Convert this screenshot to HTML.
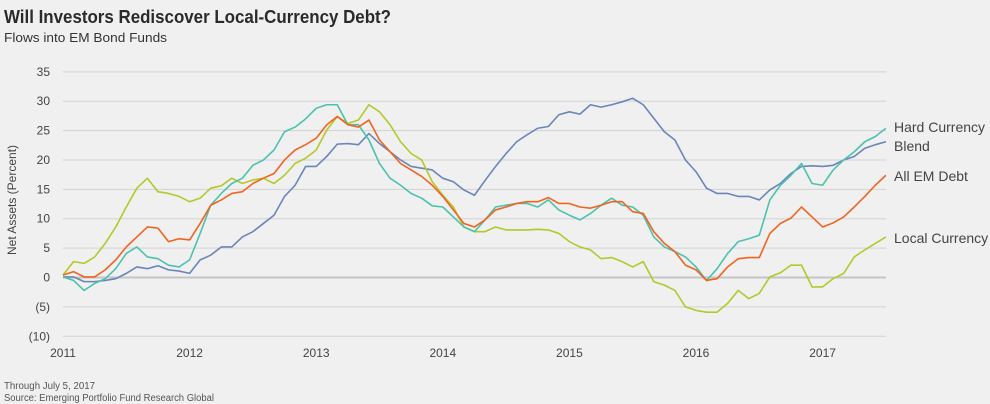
<!DOCTYPE html>
<html><head><meta charset="utf-8"><style>
html,body{margin:0;padding:0;background:#f0f0f0;}
svg{display:block;font-family:"Liberation Sans",sans-serif;}
</style></head><body>
<svg id="chart" width="990" height="404" viewBox="0 0 990 404">
<rect width="990" height="404" fill="#f0f0f0"/>
<text x="4" y="23" font-size="18" font-weight="bold" fill="#2a2a2a" textLength="387" lengthAdjust="spacingAndGlyphs">Will Investors Rediscover Local-Currency Debt?</text>
<text x="4" y="42" font-size="13" fill="#333" textLength="163" lengthAdjust="spacingAndGlyphs">Flows into EM Bond Funds</text>
<text transform="translate(16,200) rotate(-90)" text-anchor="middle" font-size="12" fill="#444">Net Assets (Percent)</text>
<g id="grid"></g><g id="series"></g>
<text x="4" y="389" font-size="10" fill="#555" textLength="91" lengthAdjust="spacingAndGlyphs">Through July 5, 2017</text>
<text x="4" y="401" font-size="10" fill="#555" textLength="210" lengthAdjust="spacingAndGlyphs">Source: Emerging Portfolio Fund Research Global</text>
</svg>
<script>
const yTicks=[35,30,25,20,15,10,5,0,-5,-10];
const yTickLabels=["35","30","25","20","15","10","5","0","(5)","(10)"];
const xTicks=[2011,2012,2013,2014,2015,2016,2017];
const startYear=2011;
const hardCurrency=[0.1,-0.5,-2.2,-1,-0.2,1.5,4.1,5.2,3.5,3.2,2.1,1.8,3,7.5,12.3,14.3,16,16.9,19.1,20,21.7,24.8,25.6,27,28.8,29.4,29.4,26,26,23.4,19.4,16.9,15.7,14.3,13.5,12.2,12,10.3,8.6,7.8,9.8,12,12.3,12.6,12.6,12,13.2,11.5,10.6,9.8,10.9,12.3,13.5,12.3,12,10.6,6.9,5.2,4.4,3.5,1.8,-0.5,1.5,4.1,6.1,6.6,7.2,13.2,15.7,17.4,19.4,16,15.7,18.3,20,21.4,23.1,24,25.4];
const blend=[0.1,0.1,-0.7,-0.7,-0.5,-0.2,0.7,1.8,1.5,2,1.3,1.1,0.7,3,3.8,5.2,5.2,6.9,7.8,9.2,10.6,13.8,15.7,18.9,18.9,20.6,22.7,22.8,22.6,24.5,22.8,21.4,20,18.9,18.6,18.3,16.9,16.3,14.9,14,16.5,18.9,21.1,23.1,24.3,25.4,25.7,27.7,28.2,27.8,29.4,29,29.4,29.9,30.5,29.4,27.1,24.8,23.4,20,18,15.2,14.3,14.3,13.8,13.8,13.2,14.9,16,17.7,18.9,19,18.9,19.1,20,20.6,22,22.6,23.1];
const allEmDebt=[0.4,1,0.1,0.1,1.3,3,5.2,6.9,8.6,8.4,6.1,6.6,6.4,9.2,12.3,13.2,14.3,14.6,16,16.9,17.7,20,21.7,22.6,23.7,26,27.4,26,25.6,26.8,23.4,21.4,19.4,18.3,17.2,15.7,13.8,11.5,9.2,8.6,9.8,11.5,12,12.6,12.9,12.9,13.6,12.6,12.6,12,11.8,12.3,12.9,12.9,11.2,10.9,7.8,5.8,4.4,2.1,1.3,-0.5,-0.2,1.8,3.2,3.4,3.4,7.5,9.2,10.1,12,10.3,8.6,9.3,10.3,12,13.8,15.7,17.4];
const localCurrency=[0.4,2.7,2.4,3.5,5.8,8.6,12,15.2,16.9,14.6,14.3,13.8,12.9,13.5,15.2,15.6,16.9,16,16.6,16.9,16,17.4,19.4,20.3,21.7,25.1,27.4,26.2,26.8,29.4,28.2,26,23.1,21.1,20,16.3,14,12,8.6,7.8,7.8,8.6,8.1,8.1,8.1,8.2,8.1,7.5,6.1,5.2,4.7,3.2,3.4,2.7,1.8,2.7,-0.7,-1.3,-2.2,-5,-5.6,-5.9,-5.9,-4.4,-2.2,-3.6,-2.7,0.1,0.8,2.1,2.1,-1.6,-1.6,-0.2,0.7,3.5,4.7,5.8,6.9];
const seriesNames=["Hard Currency","Blend","All EM Debt","Local Currency"];
const seriesLabelY=[127,146,176,238];

const NS="http://www.w3.org/2000/svg";
const X0=63,X1=886,YEARPX=126.6;
function xScale(yr){return X0+(yr-startYear)*YEARPX;}
function yScale(v){return 277.5-v*5.876;}
function mk(tag,attrs,parent){const e=document.createElementNS(NS,tag);for(const k in attrs)e.setAttribute(k,attrs[k]);parent.appendChild(e);return e;}
const grid=document.getElementById('grid'),ser=document.getElementById('series');
yTicks.forEach((t,i)=>{
  const l=mk('line',{x1:X0,x2:X1,y1:yScale(t),y2:yScale(t),stroke:t===0?'#c4c4c4':'#d2d2d2','stroke-width':t===0?2:1},grid);
  
  
  const tx=mk('text',{x:50,y:yScale(t)+4,'text-anchor':'end','font-size':12,fill:'#444'},grid);
  tx.textContent=yTickLabels[i];
  
  
});
xTicks.forEach(t=>{
  const tx=mk('text',{x:xScale(t),y:357,'text-anchor':'middle','font-size':12,fill:'#444'},grid);
  tx.textContent=String(t);
  
  
});
const data=[hardCurrency,blend,allEmDebt,localCurrency];
const colors=["#4cc2ae","#6a86b9","#f0641f","#b3c92a"];
const order=[1,3,0,2];
order.forEach(s=>{
  const vals=data[s];
  const pts=vals.map((v,i)=>xScale(startYear+i*(6.5/(vals.length-1)))+','+yScale(v)).join(' ');
  const p=mk('polyline',{points:pts,fill:'none',stroke:colors[s],'stroke-width':1.6,'stroke-linejoin':'round'},ser);
  
  
});
seriesNames.forEach((n,s)=>{
  const tx=mk('text',{x:894,y:seriesLabelY[s]+5,'font-size':14,fill:'#444'},ser);
  tx.textContent=n;
  
  
});
</script>
</body></html>
